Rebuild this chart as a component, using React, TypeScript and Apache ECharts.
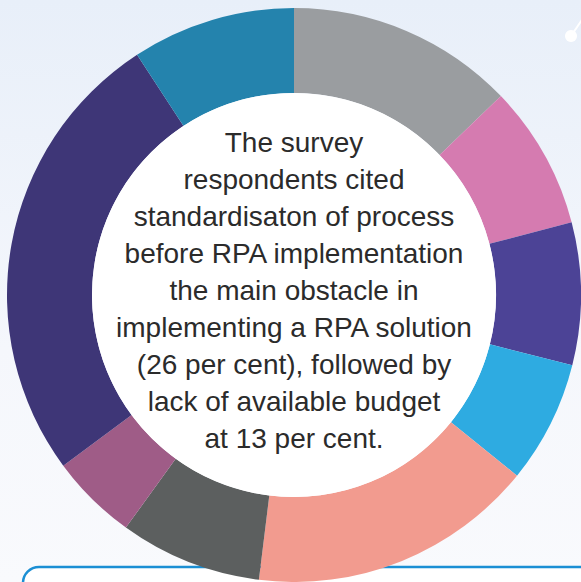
import React, { useEffect, useRef } from "react";
import * as echarts from "echarts";

const categories = [
  "Segment A",
  "Segment B",
  "Segment C",
  "Segment D",
  "Segment E",
  "Segment F",
  "Segment G",
  "Standardisation of process",
  "Segment H",
];
const values = [12.8, 8.1, 8.0, 6.9, 16.1, 8.0, 4.9, 25.9, 9.2];
const colors = [
  "#9a9da0",
  "#d57bb0",
  "#4c4396",
  "#2eabe1",
  "#f29b8f",
  "#5c5f5f",
  "#9f5c87",
  "#3e3677",
  "#2483ad",
];
const centerLines = [
  "The survey",
  "respondents cited",
  "standardisaton of process",
  "before RPA implementation",
  "the main obstacle in",
  "implementing a RPA solution",
  "(26 per cent), followed by",
  "lack of available budget",
  "at 13 per cent.",
];

export default function App() {
  const ref = useRef<HTMLDivElement>(null);
  useEffect(() => {
    if (!ref.current) return;
    const chart = echarts.init(ref.current, null, { renderer: "svg" });
    const cx = 294;
    const cy = 295;
    chart.setOption({
      animation: false,
      graphic: [
        {
          type: "rect",
          z: -10,
          silent: true,
          shape: { x: 0, y: 0, width: 581, height: 582 },
          style: {
            fill: new echarts.graphic.LinearGradient(0, 0, 0, 1, [
              { offset: 0, color: "#e8eff9" },
              { offset: 0.6, color: "#f5f7fc" },
              { offset: 1, color: "#f9fafd" },
            ]),
          },
        },
        {
          type: "line",
          z: -5,
          silent: true,
          shape: { x1: 571, y1: 36, x2: 590, y2: 8 },
          style: { stroke: "#ffffff", lineWidth: 2 },
        },
        {
          type: "circle",
          z: -5,
          silent: true,
          shape: { cx: 571, cy: 36, r: 6 },
          style: { fill: "#ffffff" },
        },
        {
          type: "rect",
          z: -4,
          silent: true,
          shape: { x: 23, y: 567, width: 600, height: 80, r: 16 },
          style: { fill: "#ffffff", stroke: "#1b8fd4", lineWidth: 2.5 },
        },
        {
          type: "circle",
          z: 5,
          silent: true,
          shape: { cx, cy, r: 202 },
          style: { fill: "#ffffff" },
        },
        {
          type: "text",
          z: 10,
          silent: true,
          x: cx,
          y: 290,
          style: {
            text: centerLines.join("\n"),
            fill: "#2b2b2b",
            fontFamily: "Liberation Sans",
            fontWeight: "normal",
            fontSize: 28,
            lineHeight: 37,
            align: "center",
            verticalAlign: "middle",
          },
        },
      ],
      series: [
        {
          type: "pie",
          silent: true,
          z: 2,
          center: [cx, cy],
          radius: [202, 287],
          startAngle: 90,
          clockwise: true,
          label: { show: false },
          labelLine: { show: false },
          itemStyle: { borderWidth: 0 },
          data: categories.map((name, i) => ({
            name,
            value: values[i],
            itemStyle: { color: colors[i] },
          })),
        },
      ],
    });
    return () => chart.dispose();
  }, []);
  return (
    <div
      ref={ref}
      style={{ position: "absolute", left: 0, top: 0, width: 581, height: 582 }}
    />
  );
}
